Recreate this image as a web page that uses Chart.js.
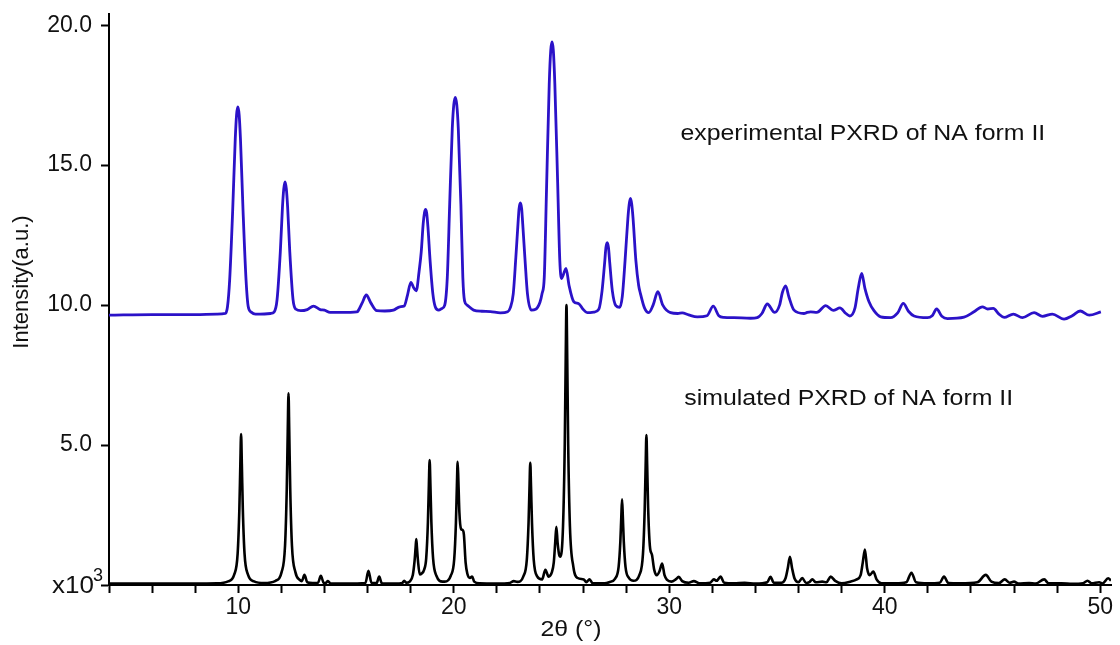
<!DOCTYPE html>
<html>
<head>
<meta charset="utf-8">
<script src="https://cdn.jsdelivr.net/npm/chart.js@4/dist/chart.umd.min.js"></script>
<style>
  html, body { margin: 0; padding: 0; background: #fff; }
  #wrap { width: 1120px; height: 645px; position: relative; }
</style>
</head>
<body>
<div id="wrap"><canvas id="pxrd"></canvas></div>
<script>
// experimental pattern (blue)
const expX = [4.0, 6.0, 8.0, 9.0, 9.4,
  9.50, 9.60, 9.74, 9.86, 9.92, 9.98, 10.04, 10.10, 10.22, 10.36, 10.46, 10.6, 10.8, 11.0, 11.5,
  11.66, 11.80, 11.95, 12.05, 12.11, 12.17, 12.23, 12.29, 12.39, 12.54, 12.68,
  12.9, 13.2, 13.49, 13.8, 14.0, 14.26, 14.8, 15.5,
  15.55, 15.75, 15.94, 16.15, 16.43, 16.8, 17.2, 17.5, 17.7,
  17.85, 18.01, 18.14, 18.26,
  18.39, 18.49, 18.58, 18.64, 18.69, 18.74, 18.80, 18.90, 19.03, 19.14, 19.30,
  19.45, 19.58, 19.70, 19.81, 19.93, 20.00, 20.07, 20.14, 20.21, 20.33, 20.42, 20.50, 20.62, 20.92,
  21.3, 21.7, 22.16, 22.5,
  22.62, 22.76, 22.88, 22.98, 23.03, 23.09, 23.15, 23.20, 23.30, 23.42, 23.60, 23.80, 24.00, 24.10,
  24.20, 24.30, 24.43, 24.50, 24.56, 24.62, 24.69, 24.82, 24.92, 25.00, 25.21, 25.35, 25.57, 25.80, 26.0, 26.19, 26.5,
  26.73, 26.88, 27.0, 27.06, 27.12, 27.18, 27.24, 27.36, 27.52, 27.70,
  27.82, 27.95, 28.08, 28.14, 28.20, 28.26, 28.32, 28.45, 28.58, 28.66, 28.85, 29.05,
  29.25, 29.47, 29.70, 30.06, 30.4, 30.6, 30.9, 31.3,
  31.75, 32.04, 32.30, 32.53, 33.0, 33.77, 34.08, 34.30, 34.55, 34.89,
  35.12, 35.25, 35.40, 35.55, 35.79, 36.25, 36.40, 36.56, 36.85,
  37.26, 37.61, 37.92, 38.20, 38.38,
  38.62, 38.77, 38.93, 39.08, 39.27, 39.50, 39.81, 40.27,
  40.60, 40.86, 41.10, 41.36, 41.98, 42.20, 42.41, 42.65, 42.91,
  43.68, 44.14, 44.53, 44.78, 45.04, 45.30, 45.54, 45.97, 46.39, 46.93, 47.32, 47.78, 48.32, 48.70, 49.07, 49.49, 50.03];
const expY = [9.64, 9.66, 9.66, 9.68, 9.70,
  9.95, 10.9, 13.39, 15.95, 16.8, 17.08, 16.8, 15.95, 13.39, 10.9, 9.95, 9.75, 9.68, 9.68, 9.70,
  9.75, 10.2, 11.9, 13.5, 14.15, 14.40, 14.15, 13.5, 11.9, 10.2, 9.85,
  9.80, 9.84, 9.96, 9.84, 9.82, 9.74, 9.74, 9.76,
  9.78, 10.08, 10.36, 10.08, 9.80, 9.79, 9.82, 9.94, 9.97,
  10.35, 10.81, 10.62, 10.51,
  11.2, 11.9, 12.9, 13.3, 13.42, 13.3, 12.8, 11.6, 10.4, 9.94, 9.82,
  9.88, 10.0, 11.0, 13.6, 16.3, 17.15, 17.42, 17.15, 16.3, 13.6, 11.0, 10.15, 10.0, 9.82,
  9.78, 9.77, 9.72, 9.76,
  9.90, 10.4, 11.7, 12.9, 13.45, 13.65, 13.45, 12.9, 11.7, 10.4, 9.82, 9.85, 10.1, 10.42,
  11.0, 14.0, 17.9, 19.1, 19.40, 19.1, 17.9, 14.4, 11.6, 10.95, 11.31, 10.7, 10.12, 10.05, 9.85, 9.73, 9.75,
  9.85, 10.5, 11.5, 12.05, 12.23, 12.05, 11.5, 10.5, 9.98, 9.92,
  10.3, 11.6, 13.1, 13.6, 13.81, 13.6, 13.1, 11.6, 10.7, 10.42, 9.9, 9.73,
  10.0, 10.48, 10.0, 9.73, 9.70, 9.72, 9.65, 9.58,
  9.62, 9.96, 9.62, 9.56, 9.55, 9.53, 9.55, 9.70, 10.04, 9.74,
  10.0, 10.45, 10.69, 10.3, 9.82, 9.70, 9.74, 9.76, 9.74,
  9.98, 9.81, 9.90, 9.70, 9.61,
  9.9, 10.6, 11.13, 10.6, 10.12, 9.80, 9.58, 9.55,
  9.72, 10.06, 9.78, 9.61, 9.55, 9.62, 9.86, 9.60, 9.52,
  9.57, 9.76, 9.94, 9.86, 9.88, 9.68, 9.56, 9.68, 9.55, 9.73, 9.60, 9.68, 9.50, 9.62, 9.79, 9.64, 9.76];

// simulated pattern (black)
const simX = [4.0, 6.0, 8.0, 9.0,
  9.53, 9.81, 9.97, 10.05, 10.095, 10.13, 10.165, 10.21, 10.29, 10.45, 10.73, 11.2,
  11.73, 12.01, 12.17, 12.25, 12.295, 12.33, 12.365, 12.41, 12.49, 12.65, 12.85,
  12.95, 13.07, 13.2, 13.45, 13.70, 13.83, 13.96, 14.05, 14.16, 14.28, 15.0,
  15.9, 16.04, 16.18, 16.42, 16.54, 16.66, 17.3, 17.6, 17.70, 17.80,
  17.95, 18.10, 18.18, 18.23, 18.26, 18.29, 18.34, 18.42, 18.50, 18.63,
  18.72, 18.80, 18.845, 18.88, 18.915, 18.96, 19.04, 19.20, 19.48,
  19.58, 19.86, 20.02, 20.10, 20.145, 20.18, 20.215, 20.26, 20.34, 20.42, 20.47, 20.55, 20.63, 20.75, 20.85, 20.95, 21.2,
  22.0, 22.6, 22.78, 22.95,
  23.23, 23.39, 23.47, 23.515, 23.55, 23.585, 23.63, 23.71, 23.87, 24.10, 24.25, 24.40,
  24.55, 24.64, 24.71, 24.76, 24.82, 24.90, 24.95,
  25.07, 25.15, 25.195, 25.23, 25.265, 25.31, 25.39, 25.55, 25.75, 26.03, 26.15, 26.30, 26.45, 27.0,
  27.21, 27.49, 27.65, 27.73, 27.775, 27.81, 27.845, 27.89, 27.97, 28.13, 28.34,
  28.62, 28.78, 28.86, 28.905, 28.94, 28.975, 29.02, 29.10, 29.20, 29.30, 29.42, 29.55, 29.67, 29.78, 29.90,
  30.1, 30.30, 30.44, 30.60, 30.9, 31.14, 31.4, 31.9, 32.07, 32.2, 32.38, 32.55, 33.0, 33.5, 34.0,
  34.55, 34.70, 34.85, 35.20, 35.40, 35.50, 35.60, 35.70, 35.82, 36.0, 36.17, 36.35, 36.50, 36.64, 36.8,
  37.1, 37.3, 37.49, 37.7, 38.0, 38.4, 38.7, 38.88, 38.98, 39.08, 39.18, 39.30, 39.47, 39.62, 39.85,
  40.5, 41.0, 41.24, 41.45, 42.0, 42.55, 42.75, 42.95, 43.5, 44.3, 44.69, 44.95, 45.3, 45.57, 45.8,
  46.0, 46.2, 46.7, 47.0, 47.40, 47.6, 48.2, 48.7, 49.2, 49.41, 49.6, 49.95, 50.1, 50.37, 50.5];
const simY = [0.05, 0.05, 0.05, 0.06,
  0.13, 0.37, 1.12, 2.72, 4.32, 5.39, 4.32, 2.72, 1.12, 0.37, 0.13, 0.07,
  0.15, 0.46, 1.41, 3.45, 5.49, 6.85, 5.49, 3.45, 1.41, 0.46, 0.18,
  0.14, 0.36, 0.10, 0.07, 0.08, 0.33, 0.08, 0.07, 0.14, 0.05, 0.05,
  0.07, 0.51, 0.08, 0.07, 0.30, 0.06, 0.05, 0.07, 0.15, 0.08,
  0.12, 0.36, 0.85, 1.35, 1.64, 1.35, 0.85, 0.38, 0.40, 0.56,
  0.95, 2.25, 3.6, 4.46, 3.6, 2.25, 0.95, 0.32, 0.12,
  0.12, 0.33, 0.92, 2.23, 3.55, 4.40, 3.7, 2.6, 2.0, 1.96, 1.8, 0.8, 0.40, 0.25, 0.30, 0.12, 0.06,
  0.05, 0.07, 0.14, 0.11,
  0.31, 0.91, 2.21, 3.51, 4.37, 3.51, 2.21, 0.91, 0.31, 0.20, 0.54, 0.30,
  0.45, 0.80, 1.55, 2.08, 1.5, 1.05, 1.01,
  2.1, 5.0, 8.1, 10.0, 8.1, 5.0, 2.1, 0.65, 0.25, 0.20, 0.10, 0.20, 0.06, 0.06,
  0.10, 0.23, 0.65, 1.55, 2.45, 3.06, 2.45, 1.55, 0.65, 0.25, 0.15,
  0.37, 1.11, 2.70, 4.29, 5.36, 4.29, 2.75, 1.4, 1.07, 0.55, 0.35, 0.50, 0.77, 0.35, 0.18,
  0.12, 0.20, 0.29, 0.14, 0.08, 0.14, 0.06, 0.08, 0.20, 0.15, 0.30, 0.08, 0.06, 0.08, 0.05,
  0.10, 0.29, 0.08, 0.08, 0.25, 0.60, 1.01, 0.60, 0.22, 0.10, 0.25, 0.07, 0.10, 0.20, 0.10,
  0.12, 0.10, 0.30, 0.15, 0.06, 0.12, 0.20, 0.35, 0.80, 1.27, 0.60, 0.35, 0.48, 0.20, 0.06,
  0.06, 0.10, 0.44, 0.10, 0.06, 0.08, 0.30, 0.07, 0.06, 0.10, 0.36, 0.12, 0.07, 0.20, 0.08,
  0.12, 0.05, 0.07, 0.05, 0.20, 0.06, 0.06, 0.04, 0.06, 0.15, 0.06, 0.10, 0.05, 0.24, 0.16];

const yTicks = [0, 5, 10, 15, 20];
const xLabelTicks = [10, 20, 30, 40, 50];
const expLabel = 'experimental PXRD of NA form II';
const simLabel = 'simulated PXRD of NA form II';
const xTitle = '2θ (°)';
const yTitle = 'Intensity(a.u.)';

const FONT = '"Liberation Sans", Arial, sans-serif';
const STRETCH = 1.13;

function toPoints(xs, ys) {
  return xs.map((x, i) => ({ x: x, y: ys[i] }));
}

function stretchedText(ctx, text, x, y, size, align) {
  ctx.save();
  ctx.font = size + 'px ' + FONT;
  const w = ctx.measureText(text).width * STRETCH;
  let left = x;
  if (align === 'center') left = x - w / 2;
  ctx.translate(left, y);
  ctx.scale(STRETCH, 1);
  ctx.textAlign = 'left';
  ctx.fillText(text, 0, 0);
  ctx.restore();
}

// tick labels must not push the plot area around
function noLabelPadding(s) {
  s.paddingTop = 0;
  s.paddingBottom = 0;
  s.paddingLeft = 0;
  s.paddingRight = 0;
}

const textPlugin = {
  id: 'pxrdText',
  afterDraw(chart) {
    const ctx = chart.ctx;
    const xs = chart.scales.x, ys = chart.scales.y;
    ctx.save();
    ctx.fillStyle = '#111';
    ctx.textBaseline = 'middle';
    stretchedText(ctx, expLabel, xs.getPixelForValue(30.52), ys.getPixelForValue(16.1), 22, 'left');
    stretchedText(ctx, simLabel, xs.getPixelForValue(30.7), ys.getPixelForValue(6.65), 22, 'left');
    stretchedText(ctx, xTitle, 571, 630, 22, 'center');

    // y title
    ctx.save();
    ctx.translate(22, 282);
    ctx.rotate(-Math.PI / 2);
    ctx.font = '22px ' + FONT;
    ctx.textAlign = 'center';
    ctx.fillText(yTitle, 0, 0);
    ctx.restore();

    // x10^3 at the zero tick
    ctx.textBaseline = 'alphabetic';
    stretchedText(ctx, 'x10', 52, 593, 23, 'left');
    ctx.font = '18px ' + FONT;
    ctx.fillText('3', 93, 581);
    ctx.restore();
  }
};

new Chart(document.getElementById('pxrd'), {
  type: 'line',
  data: {
    datasets: [
      {
        label: 'simulated',
        data: toPoints(simX, simY),
        borderColor: '#000',
        borderWidth: 2.6,
        pointRadius: 0,
        cubicInterpolationMode: 'monotone',
        order: 0
      },
      {
        label: 'experimental',
        data: toPoints(expX, expY),
        borderColor: '#2b12c8',
        borderWidth: 2.8,
        pointRadius: 0,
        cubicInterpolationMode: 'monotone',
        order: 1
      }
    ]
  },
  options: {
    responsive: true,
    maintainAspectRatio: false,
    animation: false,
    layout: { padding: { top: 14, right: 9, left: 0, bottom: 0 } },
    plugins: { legend: { display: false }, tooltip: { enabled: false } },
    scales: {
      x: {
        type: 'linear',
        min: 4,
        max: 50.5,
        afterFit: (s) => { s.height = 60; noLabelPadding(s); },
        border: { display: true, color: '#000', width: 2 },
        grid: { drawOnChartArea: false, drawTicks: true, tickLength: 8, tickWidth: 2, tickColor: '#000' },
        ticks: {
          stepSize: 2,
          includeBounds: false,
          autoSkip: false,
          maxRotation: 0,
          padding: 1,
          color: '#111',
          font: { family: FONT, size: 23 },
          callback: (v) => xLabelTicks.includes(v) ? String(v) : ''
        }
      },
      y: {
        min: 0,
        max: 20.4,
        afterFit: (s) => { s.width = 109; noLabelPadding(s); },
        border: { display: true, color: '#000', width: 2 },
        grid: { drawOnChartArea: false, drawTicks: true, tickLength: 8, tickWidth: 2, tickColor: '#000' },
        afterBuildTicks: (s) => { s.ticks = yTicks.map(v => ({ value: v })); },
        ticks: {
          padding: 9,
          color: '#111',
          font: { family: FONT, size: 23 },
          callback: (v) => v === 0 ? '' : v.toFixed(1)
        }
      }
    }
  },
  plugins: [textPlugin]
});
</script>
</body>
</html>
